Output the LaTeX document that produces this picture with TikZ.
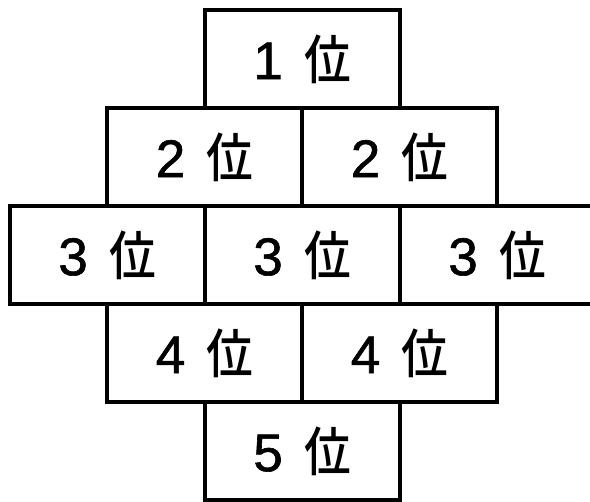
\documentclass[tikz,border=0pt]{standalone}
\usepackage{fontspec}
\setmainfont{Liberation Sans}[FakeBold=1.2]
\newfontfamily\cjk{Noto Sans CJK JP Medium}
\usetikzlibrary{positioning}

\newcommand{\rank}[1]{\raisebox{-5pt}{#1\hspace{0.4em}\scalebox{0.88}[1]{\cjk 位}}}

\begin{document}
\begin{tikzpicture}[
    x=1pt, y=-1pt,
    node distance=0pt,
    rankbox/.style={
        rectangle, draw=black, line width=4pt, outer sep=0pt,
        minimum width=195pt, minimum height=98pt,
        font=\fontsize{53}{58}\selectfont, inner sep=0pt
    }
]
\useasboundingbox (0,0) rectangle (590,502);
\clip (0,0) rectangle (590,502);

% first row
\node[rankbox, anchor=north] (r1) at (302,10) {\rank{1}};

% second row
\node[rankbox, anchor=north east] (r2a) at (r1.south) {\rank{2}};
\node[rankbox, anchor=north west] (r2b) at (r1.south) {\rank{2}};

% third row
\node[rankbox, anchor=north] (r3b) at (r2a.south east) {\rank{3}};
\node[rankbox, left=of r3b] (r3a) {\rank{3}};
\node[rankbox, right=of r3b] (r3c) {\rank{3}};

% fourth row
\node[rankbox, anchor=north east] (r4a) at (r3b.south) {\rank{4}};
\node[rankbox, anchor=north west] (r4b) at (r3b.south) {\rank{4}};

% fifth row
\node[rankbox, anchor=north] (r5) at (r4a.south east) {\rank{5}};

\end{tikzpicture}
\end{document}
